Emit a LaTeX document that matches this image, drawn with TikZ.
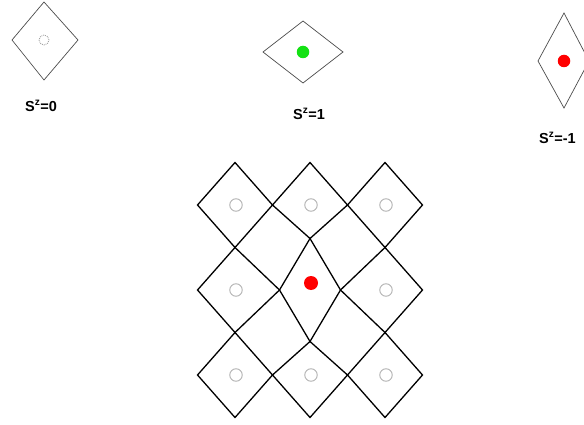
\documentclass[tikz,border=0pt]{standalone}
\usepackage{fontspec}
\setmainfont{Liberation Sans}
\begin{document}
\begin{tikzpicture}[x=1pt,y=-1pt,
  gridline/.style={draw=black, line width=1.3pt, line join=miter},
  smallrh/.style={draw=black!70, line width=0.7pt, line join=miter},
  site/.style={circle, draw=black!30, line width=0.9pt, minimum size=12.5pt, inner sep=0pt},
  dot/.style={circle, inner sep=0pt, minimum size=12.5pt},
  lbl/.style={font=\fontsize{14.5}{16}\selectfont\bfseries, inner sep=0pt}]
\useasboundingbox (0,0) rectangle (584,425);
\fill[white] (0,0) rectangle (584,425);

% ---- top row: single rhombi ----
\coordinate (aN) at (44,2);   \coordinate (aE) at (78,40);
\coordinate (aS) at (44,80);  \coordinate (aW) at (12,40);
\draw[smallrh] (aN) -- (aE) -- (aS) -- (aW) -- cycle;
\node[site, draw=black!40, densely dotted, minimum size=10pt, line width=0.8pt] (a0) at (44,40) {};
\node[lbl] (la) at (41,106) {S\textsuperscript{z}=0};

\coordinate (bN) at (303,21);  \coordinate (bE) at (343,52);
\coordinate (bS) at (303,83);  \coordinate (bW) at (263,52);
\draw[smallrh] (bN) -- (bE) -- (bS) -- (bW) -- cycle;
\node[dot, fill={rgb,255:red,20;green,225;blue,20}] (b0) at (303,52) {};
\node[lbl] (lb) at (309,114) {S\textsuperscript{z}=1};

\coordinate (cN) at (564,13);  \coordinate (cE) at (589,61);
\coordinate (cS) at (564,108); \coordinate (cW) at (538,61);
\draw[smallrh] (cN) -- (cE) -- (cS) -- (cW) -- cycle;
\node[dot, fill=red] (c0) at (564,61) {};
\node[lbl, anchor=west] (lc) at (539,138) {S\textsuperscript{z}=-1};

% ---- lattice vertices ----
\coordinate (h10) at (197.5,205); \coordinate (h11) at (272.5,205);
\coordinate (h12) at (347.5,205); \coordinate (h13) at (422.5,205);
\coordinate (h20) at (197.5,290); \coordinate (h21) at (279.5,290);
\coordinate (h22) at (340.5,290); \coordinate (h23) at (422.5,290);
\coordinate (h30) at (197.5,375); \coordinate (h31) at (272.5,375);
\coordinate (h32) at (347.5,375); \coordinate (h33) at (422.5,375);
\coordinate (v10) at (235,162.5); \coordinate (v11) at (235,247.5);
\coordinate (v12) at (235,332.5); \coordinate (v13) at (235,417.5);
\coordinate (v20) at (310,162.5); \coordinate (v21) at (310,238.5);
\coordinate (v22) at (310,341.5); \coordinate (v23) at (310,417.5);
\coordinate (v30) at (385,162.5); \coordinate (v31) at (385,247.5);
\coordinate (v32) at (385,332.5); \coordinate (v33) at (385,417.5);

\draw[gridline] (v10) -- (h11) -- (v11) -- (h10) -- cycle;
\draw[gridline] (v20) -- (h12) -- (v21) -- (h11) -- cycle;
\draw[gridline] (v30) -- (h13) -- (v31) -- (h12) -- cycle;
\draw[gridline] (v11) -- (h21) -- (v12) -- (h20) -- cycle;
\draw[gridline] (v21) -- (h22) -- (v22) -- (h21) -- cycle;
\draw[gridline] (v31) -- (h23) -- (v32) -- (h22) -- cycle;
\draw[gridline] (v12) -- (h31) -- (v13) -- (h30) -- cycle;
\draw[gridline] (v22) -- (h32) -- (v23) -- (h31) -- cycle;
\draw[gridline] (v32) -- (h33) -- (v33) -- (h32) -- cycle;

% sites
\node[site] (s11) at (236,205) {};
\node[site] (s21) at (311,205) {};
\node[site] (s31) at (386,205) {};
\node[site] (s12) at (236,290) {};
\node[dot, fill=red, minimum size=14pt] (s22) at (311,283) {};
\node[site] (s32) at (386,290) {};
\node[site] (s13) at (236,375) {};
\node[site] (s23) at (311,375) {};
\node[site] (s33) at (386,375) {};
\end{tikzpicture}
\end{document}
